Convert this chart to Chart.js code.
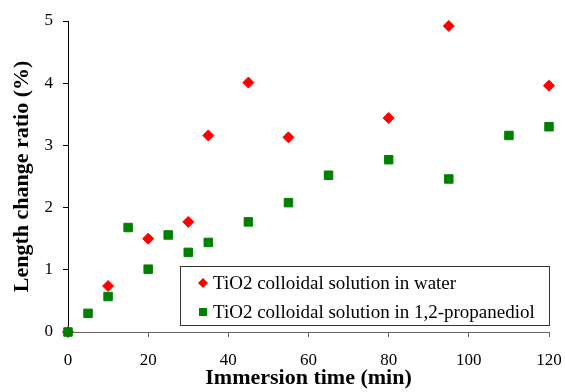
<!DOCTYPE html>
<html>
<head>
<meta charset="utf-8">
<script src="https://cdn.jsdelivr.net/npm/chart.js@4"></script>
<style>
  html, body { margin: 0; padding: 0; background: #fff; }
  #wrap { width: 565px; height: 392px; position: relative; }
</style>
</head>
<body>
<div id="wrap"><canvas id="myChart" width="565" height="392"></canvas></div>
<script>
// data
var waterTime  = [0, 10, 20, 30, 35, 45, 55, 80, 95, 120];
var waterRatio = [0, 0.74, 1.50, 1.77, 3.16, 4.01, 3.13, 3.44, 4.92, 3.96];
var propTime   = [0, 5, 10, 15, 20, 25, 30, 35, 45, 55, 65, 80, 95, 110, 120];
var propRatio  = [0, 0.30, 0.57, 1.68, 1.01, 1.56, 1.28, 1.44, 1.77, 2.08, 2.52, 2.77, 2.46, 3.16, 3.30];
var seriesNames = ["TiO2 colloidal solution in water", "TiO2 colloidal solution in 1,2-propanediol"];
var xTicks = [0, 20, 40, 60, 80, 100, 120];
var yTicks = [0, 1, 2, 3, 4, 5];

var serif = "'Liberation Serif', 'Times New Roman', serif";

function toPoints(xs, ys) {
  var pts = [];
  for (var i = 0; i < xs.length; i++) pts.push({x: xs[i], y: ys[i]});
  return pts;
}

// legend box drawn inside the plot area (bottom right)
var boxLegend = {
  id: "boxLegend",
  afterDraw: function(chart) {
    var ctx = chart.ctx;
    var x0 = 180.5, y0 = 266.5, w = 369, h = 59;
    ctx.save();
    ctx.fillStyle = "#fff";
    ctx.fillRect(x0, y0, w, h);
    ctx.strokeStyle = "#333";
    ctx.lineWidth = 1;
    ctx.strokeRect(x0, y0, w, h);
    ctx.font = "19px " + serif;
    ctx.textBaseline = "middle";
    chart.data.datasets.forEach(function(ds, i) {
      var cy = 283 + i * 29;
      ctx.fillStyle = ds.backgroundColor;
      if (ds.pointStyle == "rectRot") {
        ctx.beginPath();
        ctx.moveTo(203 - 5, cy); ctx.lineTo(203, cy - 5);
        ctx.lineTo(203 + 5, cy); ctx.lineTo(203, cy + 5);
        ctx.closePath(); ctx.fill();
      } else {
        ctx.fillRect(199, cy - 4, 8, 8);
      }
      ctx.fillStyle = "#000";
      ctx.fillText(ds.label, 213, cy + 1);
    });
    ctx.restore();
  }
};

new Chart("myChart", {
  type: "scatter",
  data: {
    datasets: [{
      label: seriesNames[0],
      data: toPoints(waterTime, waterRatio),
      backgroundColor: "#ff0000",
      borderColor: "#ff0000",
      pointStyle: "rectRot",
      pointRadius: 5.5,
      clip: false,
      order: 1
    }, {
      label: seriesNames[1],
      data: toPoints(propTime, propRatio),
      backgroundColor: "#008000",
      borderColor: "#008000",
      pointStyle: "rect",
      pointRadius: 6,
      clip: false,
      order: 0
    }]
  },
  options: {
    responsive: false,
    animation: false,
    layout: { padding: { left: 0, right: 16, top: 21, bottom: 0 } },
    plugins: {
      legend: { display: false },
      tooltip: { enabled: false }
    },
    scales: {
      x: {
        type: "linear",
        min: 0, max: 120,
        afterBuildTicks: function(s) { s.ticks = xTicks.map(function(v) { return {value: v}; }); },
        afterFit: function(s) { s.height = 60; s.paddingRight = 0; s.paddingLeft = 0; },
        grid: { drawOnChartArea: false, tickLength: 5, color: "#666" },
        border: { color: "#666" },
        ticks: { color: "#000", font: { family: serif, size: 17 }, padding: 13 },
        title: { display: true, text: "Immersion time (min)", color: "#000",
                 font: { family: serif, size: 22, weight: "bold" }, padding: { top: -9, bottom: 0 } }
      },
      y: {
        min: 0, max: 5,
        afterBuildTicks: function(s) { s.ticks = yTicks.map(function(v) { return {value: v}; }); },
        afterFit: function(s) { s.width = 68; },
        grid: { drawOnChartArea: false, tickLength: 5, color: "#000" },
        border: { color: "#000" },
        ticks: { color: "#000", font: { family: serif, size: 17 }, padding: 10 },
        title: { display: true, text: "Length change ratio (%)", color: "#000",
                 font: { family: serif, size: 22, weight: "bold" }, padding: { top: 9, bottom: 0 } }
      }
    }
  },
  plugins: [boxLegend]
});
</script>
</body>
</html>
